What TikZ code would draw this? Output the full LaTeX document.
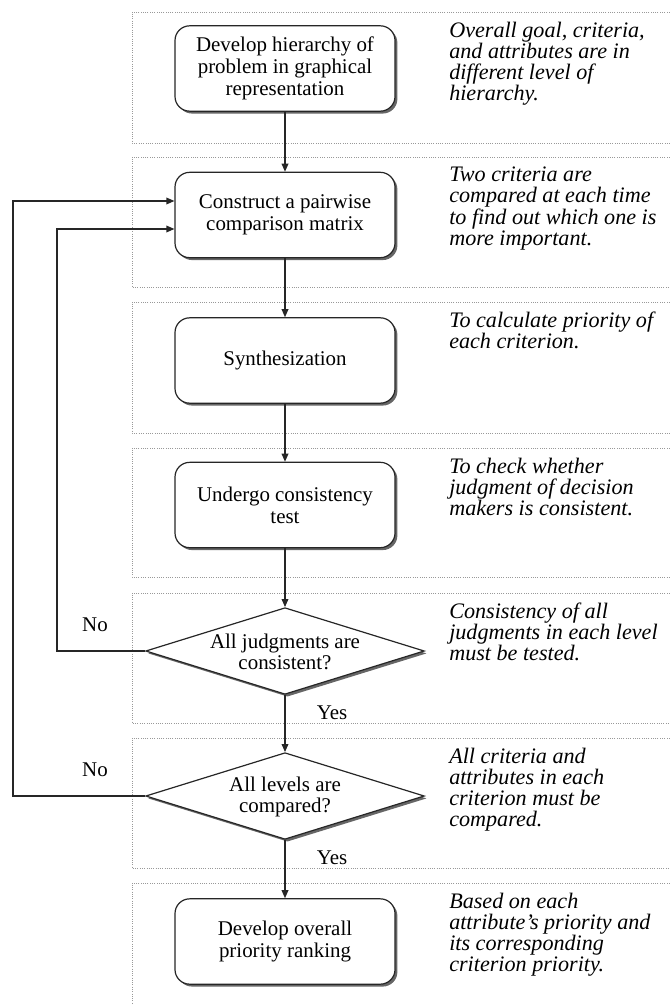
\documentclass[tikz,border=0pt]{standalone}
\usepackage{fontspec}
\setmainfont{Liberation Serif}
\usetikzlibrary{shapes.geometric, shadows, arrows.meta}

\begin{document}
\begin{tikzpicture}[x=0.75pt, y=-0.75pt,
  panel/.style={draw=black!40, densely dotted, line width=0.7pt},
  boxshadow/.style={drop shadow={shadow xshift=1.8pt, shadow yshift=-1.8pt, fill=black!75, opacity=0.8}},
  procbox/.style={draw=black!85, line width=0.9pt, rounded corners=11pt, fill=white,
    minimum width=165pt, minimum height=64pt, inner sep=2pt, align=center,
    font=\fontsize{15.7}{16.3}\selectfont, boxshadow},
  decision/.style={diamond, draw=black!85, line width=0.9pt, fill=white,
    minimum width=209pt, minimum height=65pt, inner sep=0pt, boxshadow},
  dtext/.style={align=center, inner sep=0pt, font=\fontsize{15.7}{16.3}\selectfont},
  note/.style={anchor=north west, inner sep=0pt, align=left,
    font=\fontsize{16.6}{15.8}\selectfont\itshape},
  lbl/.style={inner sep=0pt, font=\fontsize{15.7}{16}\selectfont},
  flow/.style={draw=black!85, line width=0.9pt, -{Triangle[length=6pt,width=5pt]}},
]
\useasboundingbox (0,0) rectangle (669,1005);

% dotted stage panels, open on the right
\foreach \t/\b in {12/143, 157/287, 302/433, 448/577, 593/723, 738/868}{
  \draw[panel] (672,\t) -- (132,\t) -- (132,\b) -- (672,\b);
}
\draw[panel] (672,883) -- (132,883) -- (132,1008);

% process steps
\node[procbox] (b1) at (285,68.5) {Develop hierarchy of\\problem in graphical\\representation};
\node[procbox] (b2) at (285,215) {Construct a pairwise\\comparison matrix};
\node[procbox] (b3) at (285,360.5) {Synthesization};
\node[procbox] (b4) at (285,505) {Undergo consistency\\test};
\node[decision] (d1) at (285,651) {};
\node[dtext] (d1t) at (285,652) {All judgments are\\consistent?};
\node[decision] (d2) at (285,796) {};
\node[dtext] (d2t) at (285,797) {All levels are\\compared?};
\node[procbox] (b7) at (285,941.5) {Develop overall\\priority ranking};

% main flow
\draw[flow] (b1) -- (b2);
\draw[flow] (b2) -- (b3);
\draw[flow] (b3) -- (b4);
\draw[flow] (b4) -- (d1.north);
\draw[flow] (d1.south) -- (d2.north);
\draw[flow] (d2.south) -- (b7);

% feedback loops
\coordinate (loopA) at (57,229);
\coordinate (loopB) at (13,201);
\draw[flow] (d1.west) -| (loopA) -- ([yshift=-10.5pt]b2.west);
\draw[flow] (d2.west) -| (loopB) -- ([yshift=10.5pt]b2.west);

% branch labels
\node[lbl] (no1) at (95,625) {No};
\node[lbl] (no2) at (95,770) {No};
\node[lbl] (yes1) at (332,713) {Yes};
\node[lbl] (yes2) at (332,858) {Yes};

% explanatory notes
\node[note] (n1) at (449,22) {Overall goal, criteria,\\and attributes are in\\different level of\\hierarchy.};
\node[note] (n2) at (449,167) {Two criteria are\\compared at each time\\to find out which one is\\more important.};
\node[note] (n3) at (449,312) {To calculate priority of\\each criterion.};
\node[note] (n4) at (449,458) {To check whether\\judgment of decision\\makers is consistent.};
\node[note] (n5) at (449,603) {Consistency of all\\judgments in each level\\must be tested.};
\node[note] (n6) at (449,748) {All criteria and\\attributes in each\\criterion must be\\compared.};
\node[note] (n7) at (449,893) {Based on each\\attribute’s priority and\\its corresponding\\criterion priority.};
\end{tikzpicture}
\end{document}
